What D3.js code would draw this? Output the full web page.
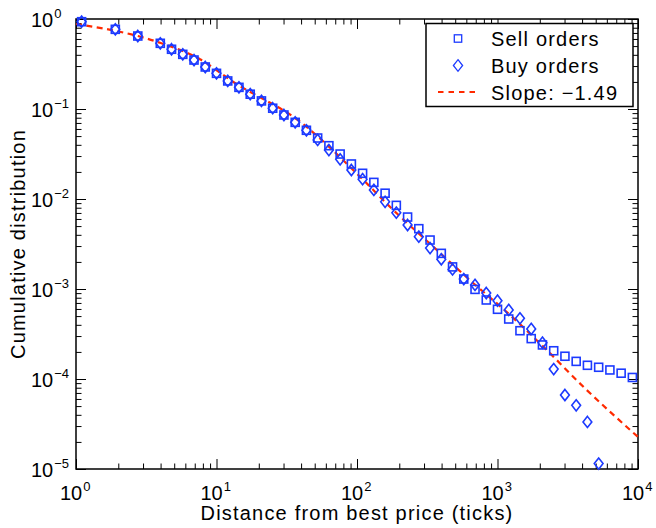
<!DOCTYPE html>
<html>
<head>
<meta charset="utf-8">
<script src="https://cdn.jsdelivr.net/npm/d3@7"></script>
<style>
  body { margin: 0; background: #ffffff; }
  svg { display: block; font-family: "Liberation Sans", Arial, Helvetica, sans-serif; }
</style>
</head>
<body>
<div id="chart"></div>
<script>
//-------------------------------------------------------
// data
//-------------------------------------------------------
// distance from best price (ticks), log-spaced bins
const distance = [1.096, 1.905, 2.754, 3.981, 4.786, 5.754, 6.918, 8.318, 10.0, 12.02,
    14.45, 17.38, 20.89, 25.12, 30.20, 36.31, 43.65, 52.48, 63.10, 75.86,
    91.20, 109.6, 131.8, 158.5, 190.5, 229.1, 275.4, 331.1, 398.1, 478.6,
    575.4, 691.8, 831.8, 1000, 1202, 1445, 1738, 2089, 2512, 3020,
    3631, 4365, 5248, 6310, 7586, 9120];

const sellOrders = [0.933, 0.768, 0.647, 0.537, 0.461, 0.405, 0.350, 0.293, 0.249, 0.205,
    0.174, 0.146, 0.123, 0.102, 0.0858, 0.0711, 0.0580, 0.0476, 0.0391, 0.0316,
    0.0245, 0.0193, 0.0153, 0.0116, 0.0085, 0.0063, 0.00468, 0.0035, 0.00249, 0.00176,
    0.00129, 0.00099, 0.000755, 0.000595, 0.000464, 0.000344, 0.000281, 0.000239, 0.000206, 0.000179,
    0.000157, 0.000142, 0.000135, 0.000126, 0.000116, 0.000104];

// buy orders stop at ~5200 ticks
const buyOrders = [0.933, 0.768, 0.647, 0.537, 0.461, 0.405, 0.350, 0.293, 0.249, 0.205,
    0.174, 0.146, 0.123, 0.102, 0.0858, 0.0711, 0.0580, 0.0453, 0.0350, 0.0276,
    0.0210, 0.0166, 0.0126, 0.0093, 0.00705, 0.00514, 0.00381, 0.00285, 0.00214, 0.00165,
    0.00129, 0.00111, 0.000903, 0.000741, 0.000585, 0.000472, 0.00036, 0.000253, 0.000129, 0.0000664,
    0.000051, 0.0000333, 0.0000115];

// dashed fit line (points along it)
const fitX = [1, 3.75, 7.63, 13.1, 39.3, 105, 181, 349, 673, 1227, 2005, 4314, 10000];
const fitY = [0.88, 0.56, 0.357, 0.201, 0.0723, 0.0177, 0.00755, 0.00295, 0.00116, 0.000515, 0.000249, 0.0000755, 0.0000227];

const xMajor = [1, 10, 100, 1000, 10000];
const yMajor = [1, 0.1, 0.01, 0.001, 0.0001, 0.00001];
const xExp = ["0", "1", "2", "3", "4"];
const yExp = ["0", "\u22121", "\u22122", "\u22123", "\u22124", "\u22125"];

const legendLabels = ["Sell orders", "Buy orders", "Slope: \u22121.49"];

//-------------------------------------------------------
// properties
//-------------------------------------------------------
let properties = {
    width: 656,
    height: 528,
    margin: { top: 19, right: 18, bottom: 59, left: 76 },
    color: {
        blue: "#1c3aff",
        red: "#ff2a00",
        black: "#000000",
        white: "#ffffff"
    },
    tick: { major: 10, minor: 5.5 }
};
properties.boundedWidth = properties.width - properties.margin.left - properties.margin.right;
properties.boundedHeight = properties.height - properties.margin.top - properties.margin.bottom;

const svg = d3.select("#chart")
    .append("svg")
    .attr("width", properties.width)
    .attr("height", properties.height);

const bounds = svg.append("g")
    .attr("transform", `translate(${properties.margin.left},${properties.margin.top})`);

const x = d3.scaleLog().domain([1, 10000]).range([0, properties.boundedWidth]);
const y = d3.scaleLog().domain([0.00001, 1]).range([properties.boundedHeight, 0]);

// minor ticks 2..9 in every decade
function minorTicks(lo, hi) {
    let out = [];
    for (let e = lo; e < hi; e++) {
        for (let m = 2; m <= 9; m++) out.push(m * Math.pow(10, e));
    }
    return out;
}
const xMinor = minorTicks(0, 4);
const yMinor = minorTicks(-5, 0);

//-------------------------------------------------------
// axes (ticks pointing inward on all four sides)
//-------------------------------------------------------
function addAxis(axis, transform) {
    const g = bounds.append("g")
        .attr("transform", transform)
        .call(axis);
    g.select(".domain").remove();
    g.selectAll("text").remove();
    g.selectAll("line").attr("stroke", properties.color.black).attr("stroke-width", 1);
    return g;
}
const bh = properties.boundedHeight, bw = properties.boundedWidth;
[[xMajor, properties.tick.major], [xMinor, properties.tick.minor]].forEach(([vals, len]) => {
    addAxis(d3.axisBottom(x).tickValues(vals).tickSize(-len).tickFormat(""), `translate(0,${bh})`);
    addAxis(d3.axisTop(x).tickValues(vals).tickSize(-len).tickFormat(""), "translate(0,0)");
});
[[yMajor, properties.tick.major], [yMinor, properties.tick.minor]].forEach(([vals, len]) => {
    addAxis(d3.axisLeft(y).tickValues(vals).tickSize(-len).tickFormat(""), "translate(0,0)");
    addAxis(d3.axisRight(y).tickValues(vals).tickSize(-len).tickFormat(""), `translate(${bw},0)`);
});

// frame
bounds.append("rect")
    .attr("width", bw)
    .attr("height", bh)
    .attr("fill", "none")
    .attr("stroke", properties.color.black)
    .attr("stroke-width", 1.5);

// tick labels with superscripts
const xLabels = bounds.append("g").selectAll("text")
    .data(xMajor)
    .enter()
    .append("text")
    .attr("x", d => x(d) - 16)
    .attr("y", bh + 31)
    .attr("font-size", 20)
    .attr("fill", properties.color.black);
xLabels.append("tspan").text("10");
xLabels.append("tspan").attr("dy", -9).attr("dx", 1).attr("font-size", 13).text((d, i) => xExp[i]);

const yLabels = bounds.append("g").selectAll("text")
    .data(yMajor)
    .enter()
    .append("text")
    .attr("x", 31 - properties.margin.left)
    .attr("y", d => y(d) + 8)
    .attr("font-size", 20)
    .attr("fill", properties.color.black);
yLabels.append("tspan").text("10");
yLabels.append("tspan").attr("dy", -9).attr("dx", 1).attr("font-size", 13).text((d, i) => yExp[i]);

// axis titles
svg.append("text")
    .attr("x", properties.margin.left + bw / 2)
    .attr("y", 520)
    .attr("text-anchor", "middle")
    .attr("font-size", 20)
    .attr("letter-spacing", "1.2px")
    .text("Distance from best price (ticks)");

svg.append("text")
    .attr("transform", `translate(25,${properties.margin.top + bh / 2}) rotate(-90)`)
    .attr("text-anchor", "middle")
    .attr("font-size", 20)
    .attr("letter-spacing", "1.2px")
    .text("Cumulative distribution");

//-------------------------------------------------------
// marks
//-------------------------------------------------------
const plot = bounds.append("g");

const fitLine = d3.line()
    .x(d => x(d[0]))
    .y(d => y(d[1]))
    .curve(d3.curveMonotoneX);

plot.append("path")
    .datum(fitX.map((d, i) => [d, fitY[i]]))
    .attr("d", fitLine)
    .attr("fill", "none")
    .attr("stroke", properties.color.red)
    .attr("stroke-width", 2.2)
    .attr("stroke-dasharray", "6,4.5");

const squareSize = 8;
plot.append("g").selectAll("rect")
    .data(sellOrders)
    .enter()
    .append("rect")
    .attr("x", (d, i) => x(distance[i]) - squareSize / 2)
    .attr("y", d => y(d) - squareSize / 2)
    .attr("width", squareSize)
    .attr("height", squareSize)
    .attr("fill", "none")
    .attr("stroke", properties.color.blue)
    .attr("stroke-width", 1.6);

function diamondPath(cx, cy, w, h) {
    return `M${cx},${cy - h}L${cx + w},${cy}L${cx},${cy + h}L${cx - w},${cy}Z`;
}
plot.append("g").selectAll("path")
    .data(buyOrders)
    .enter()
    .append("path")
    .attr("d", (d, i) => diamondPath(x(distance[i]), y(d), 4.4, 5.6))
    .attr("fill", "none")
    .attr("stroke", properties.color.blue)
    .attr("stroke-width", 1.6);

//-------------------------------------------------------
// legend
//-------------------------------------------------------
const legend = svg.append("g").attr("transform", "translate(426,23.5)");
legend.append("rect")
    .attr("width", 207)
    .attr("height", 83)
    .attr("fill", properties.color.white)
    .attr("stroke", properties.color.black)
    .attr("stroke-width", 1.5);

const rowY = [15, 42, 68.5];
legend.append("rect")
    .attr("x", 32 - 3.7).attr("y", rowY[0] - 3.7)
    .attr("width", 7.4).attr("height", 7.4)
    .attr("fill", "none").attr("stroke", properties.color.blue).attr("stroke-width", 1.3);
legend.append("path")
    .attr("d", diamondPath(32, rowY[1], 4.6, 5.8))
    .attr("fill", "none").attr("stroke", properties.color.blue).attr("stroke-width", 1.3);
legend.append("line")
    .attr("x1", 12).attr("x2", 53)
    .attr("y1", rowY[2]).attr("y2", rowY[2])
    .attr("stroke", properties.color.red)
    .attr("stroke-width", 2)
    .attr("stroke-dasharray", "5.5,5");

legend.selectAll("text.lab")
    .data(legendLabels)
    .enter()
    .append("text")
    .attr("class", "lab")
    .attr("x", 65)
    .attr("y", (d, i) => rowY[i] + 7.5)
    .attr("font-size", 20)
    .attr("letter-spacing", "1.2px")
    .text(d => d);
</script>
</body>
</html>
